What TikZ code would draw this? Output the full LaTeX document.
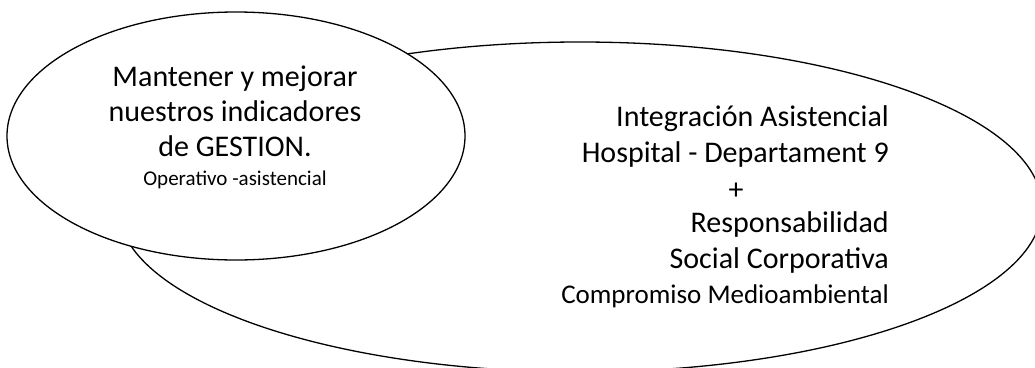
\documentclass[tikz,border=0pt]{standalone}
\usepackage{fontspec}
\setmainfont{Carlito}
\usetikzlibrary{shapes.geometric}
\tikzset{
  oval/.style={ellipse, draw=black, line width=1.3pt, inner sep=0pt},
  bigtxt/.style={font=\fontsize{30}{35}\selectfont, inner sep=0pt, anchor=base},
  smalltxt/.style={font=\fontsize{21}{25}\selectfont, inner sep=0pt, anchor=base},
  righttxt/.style={font=\fontsize{30}{35}\selectfont, inner sep=0pt, anchor=base east},
  rightsmall/.style={font=\fontsize{27}{32}\selectfont, inner sep=0pt, anchor=base east}
}
\begin{document}
\begin{tikzpicture}[x=1pt,y=-1pt]
\useasboundingbox (0,0) rectangle (1035,367);
\fill[white] (0,0) rectangle (1035,367);
% big ellipse
\node[oval, minimum width=924pt, minimum height=330pt] (big) at (580,207) {};
% small ellipse on top
\node[oval, fill=white, minimum width=458pt, minimum height=248pt] (small) at (236,136) {};
% left texts
\node[bigtxt] (l1) at (235,86.7) {Mantener y mejorar};
\node[bigtxt] (l2) at (235,121.7) {nuestros indicadores};
\node[bigtxt] (l3) at (235,156.7) {de GESTION.};
\node[smalltxt] (l4) at (235,185) {Operativo -asistencial};
% right texts
\node[righttxt] (r1) at (889,126) {Integración Asistencial};
\node[righttxt] (r2) at (889,162.5) {Hospital - Departament 9};
\node[bigtxt] (r3) at (736,199) {+};
\node[righttxt] (r4) at (889,232) {Responsabilidad};
\node[righttxt] (r5) at (889,268) {Social Corporativa};
\node[rightsmall] (r6) at (889,303) {Compromiso Medioambiental};
\end{tikzpicture}
\end{document}
